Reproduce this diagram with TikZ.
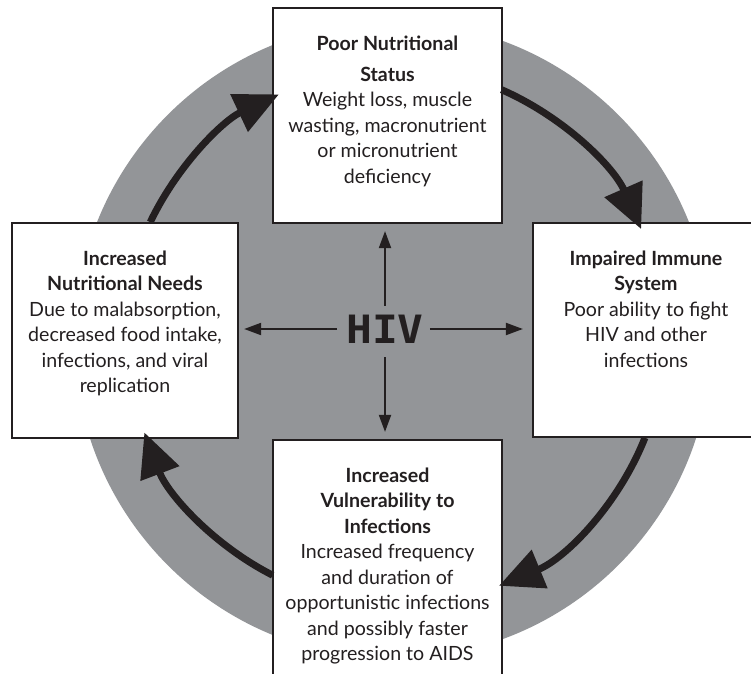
\documentclass[tikz,border=0pt]{standalone}
\usepackage{fontspec}
\setmainfont{Lato}
\newfontfamily\hivfont{DejaVu Sans Mono}
\usetikzlibrary{arrows.meta}
\definecolor{disc}{HTML}{939598}
\definecolor{ink}{HTML}{231F20}
\tikzset{
  box/.style={draw=ink, line width=2.2pt, fill=white, rectangle, inner sep=0pt},
  boxtext/.style={anchor=north, inner sep=0pt, align=center, text=ink,
    font=\fontsize{19.6}{25.5}\selectfont},
  bigarrow/.style={draw=ink, line width=7pt, -{Triangle[length=44pt,width=40pt]}},
  thinarrow/.style={draw=ink, line width=2pt, -{Triangle[length=17pt,width=12pt]}}
}
\newcommand{\fl}{\rule{0pt}{15pt}}
\begin{document}
\begin{tikzpicture}[x=1pt,y=1pt]
\clip (0,0) rectangle (751,673);
\fill[white] (0,0) rectangle (751,673);
\coordinate (C) at (393,333);
\coordinate (A) at (393,335);
\fill[disc] (C) circle[radius=318.5pt];
% boxes
\node[box, minimum width=229pt, minimum height=215pt] (top) at (387.5,557.5) {};
\node[box, minimum width=226pt, minimum height=215pt] (left) at (125,342.5) {};
\node[box, minimum width=226pt, minimum height=214pt] (right) at (646,343) {};
\node[box, minimum width=229pt, minimum height=263pt] (bottom) at (387.5,101.5) {};
% texts
\node[boxtext] (toptext) at (387.5,638) {\fl\textbf{Poor Nutritional}\\[5.5pt]\textbf{Status}\\Weight loss, muscle\\wasting, macronutrient\\or micronutrient\\deficiency};
\node[boxtext] (lefttext) at (125,423) {\fl\textbf{Increased}\\\textbf{Nutritional Needs}\\Due to malabsorption,\\decreased food intake,\\infections, and viral\\replication};
\node[boxtext] (righttext) at (646,423) {\fl\textbf{Impaired Immune}\\\textbf{System}\\Poor ability to fight\\HIV and other\\infections};
\node[boxtext] (bottomtext) at (387.5,206) {\fl\textbf{Increased}\\\textbf{Vulnerability to}\\\textbf{Infections}\\Increased frequency\\and duration of\\opportunistic infections\\and possibly faster\\progression to AIDS};
% HIV
\node[inner sep=0pt, text=ink, font=\hivfont\bfseries\fontsize{39}{39}\selectfont] (hiv) at (385,344) {\scalebox{1.1}[1]{HIV}};
\draw[thinarrow] ([xshift=-9pt]hiv.west) -- ([xshift=5pt]left.east |- hiv.west);
\draw[thinarrow] ([xshift=6pt]hiv.east) -- ([xshift=-9pt]right.west |- hiv.east);
\draw[thinarrow] ([yshift=9pt]hiv.north) -- ([yshift=-7pt]hiv.north |- top.south);
\draw[thinarrow] ([yshift=-14pt]hiv.south) -- ([yshift=7pt]hiv.south |- bottom.north);
% cycle arrows
\draw[bigarrow] (A) ++(154.5:269pt) arc[start angle=154.5, end angle=115.1, radius=269pt];
\draw[bigarrow] (A) ++(66.4:271pt) arc[start angle=66.4, end angle=23.7, radius=271pt];
\draw[bigarrow] (A) ++(-21.6:271pt) arc[start angle=-21.6, end angle=-67.6, radius=266pt];
\draw[bigarrow] (A) ++(-116.9:266pt) arc[start angle=-116.9, end angle=-159.2, radius=266pt];
\end{tikzpicture}
\end{document}
